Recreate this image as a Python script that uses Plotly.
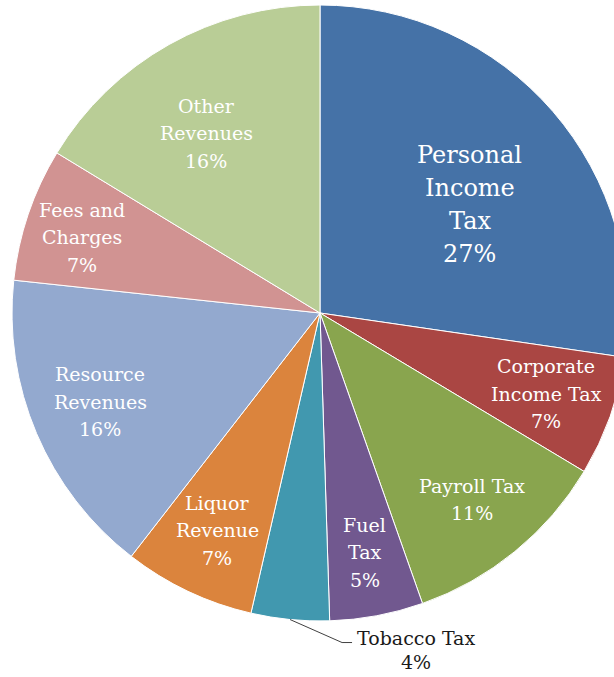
import math
import plotly.graph_objects as go

# ---- data ----
categories = ["Personal Income Tax", "Corporate Income Tax", "Payroll Tax", "Fuel Tax",
              "Tobacco Tax", "Liquor Revenue", "Resource Revenues", "Fees and Charges",
              "Other Revenues"]
label_lines = [["Personal", "Income", "Tax"], ["Corporate", "Income Tax"], ["Payroll Tax"],
               ["Fuel", "Tax"], ["Tobacco Tax"], ["Liquor", "Revenue"], ["Resource", "Revenues"],
               ["Fees and", "Charges"], ["Other", "Revenues"]]
values = [27.3, 6.3, 11.0, 4.9, 4.1, 6.9, 16.2, 7.0, 16.3]
pct_labels = ["27%", "7%", "11%", "5%", "4%", "7%", "16%", "7%", "16%"]

# ---- style ----
colors = ["#4572A7", "#AA4643", "#89A54E", "#71588F", "#4198AF",
          "#DB843D", "#93A9CF", "#D19392", "#B9CD96"]
W, H = 640, 677
cx, cy, R = 320, 313, 308
label_r = [0.60, 0.78, 0.78, 0.79, None, 0.78, 0.77, 0.81, 0.69]
label_dang = [5, 0, 0, 0, 0, 0, 1, -1, -3]
font_sizes = [24, 19, 19, 19, 19, 19, 19, 19, 19]
line_gap = [33, 27.5, 27, 27.5, 24, 27.5, 27.5, 27.5, 27.5]
FONT = "DejaVu Serif"

def P(x, y):
    return x / W, 1 - y / H

fig = go.Figure(go.Pie(
    labels=categories, values=values, sort=False, direction="clockwise", rotation=0,
    marker=dict(colors=colors, line=dict(color="white", width=1)),
    textinfo="none", hoverinfo="label+percent", showlegend=False,
    domain=dict(x=[(cx - R) / W, (cx + R) / W], y=[1 - (cy + R) / H, 1 - (cy - R) / H]),
))

total = sum(values)
annotations = []
shapes = []
cum = 0.0
for i, v in enumerate(values):
    mid = (cum + v / 2) / total * 360
    cum += v
    lines = label_lines[i] + [pct_labels[i]]
    n = len(lines)
    if label_r[i] is not None:
        a = math.radians(mid + label_dang[i])
        r = label_r[i] * R
        lx, ly = cx + r * math.sin(a), cy - r * math.cos(a)
        for k, t in enumerate(lines):
            yy = ly + (k - (n - 1) / 2) * line_gap[i]
            x, y = P(lx, yy)
            annotations.append(dict(x=x, y=y, xref="paper", yref="paper", text=t,
                                    showarrow=False, xanchor="center", yanchor="middle",
                                    font=dict(family=FONT, size=font_sizes[i], color="white")))
    else:
        a = math.radians(mid)
        ex, ey = cx + R * math.sin(a), cy - R * math.cos(a)
        kx, ky = ex + 52, ey + 23
        tx = kx + 10
        x0, y0 = P(ex, ey)
        x1, y1 = P(kx, ky)
        x2, y2 = P(tx, ky)
        shapes.append(dict(type="path", xref="paper", yref="paper",
                           path=f"M {x0},{y0} L {x1},{y1} L {x2},{y2}",
                           line=dict(color="#404040", width=1)))
        lcx = tx + 64
        for k, t in enumerate(lines):
            yy = ky - 5 + k * line_gap[i]
            x, y = P(lcx, yy)
            annotations.append(dict(x=x, y=y, xref="paper", yref="paper", text=t,
                                    showarrow=False, xanchor="center", yanchor="middle",
                                    font=dict(family=FONT, size=font_sizes[i], color="#1a1a1a")))

fig.update_layout(width=W, height=H, margin=dict(l=0, r=0, t=0, b=0),
                  paper_bgcolor="white", plot_bgcolor="white",
                  annotations=annotations, shapes=shapes)

fig.write_html("out.html", config={"displayModeBar": False},
               post_script="document.body.style.margin='0';document.body.style.overflow='hidden';")
